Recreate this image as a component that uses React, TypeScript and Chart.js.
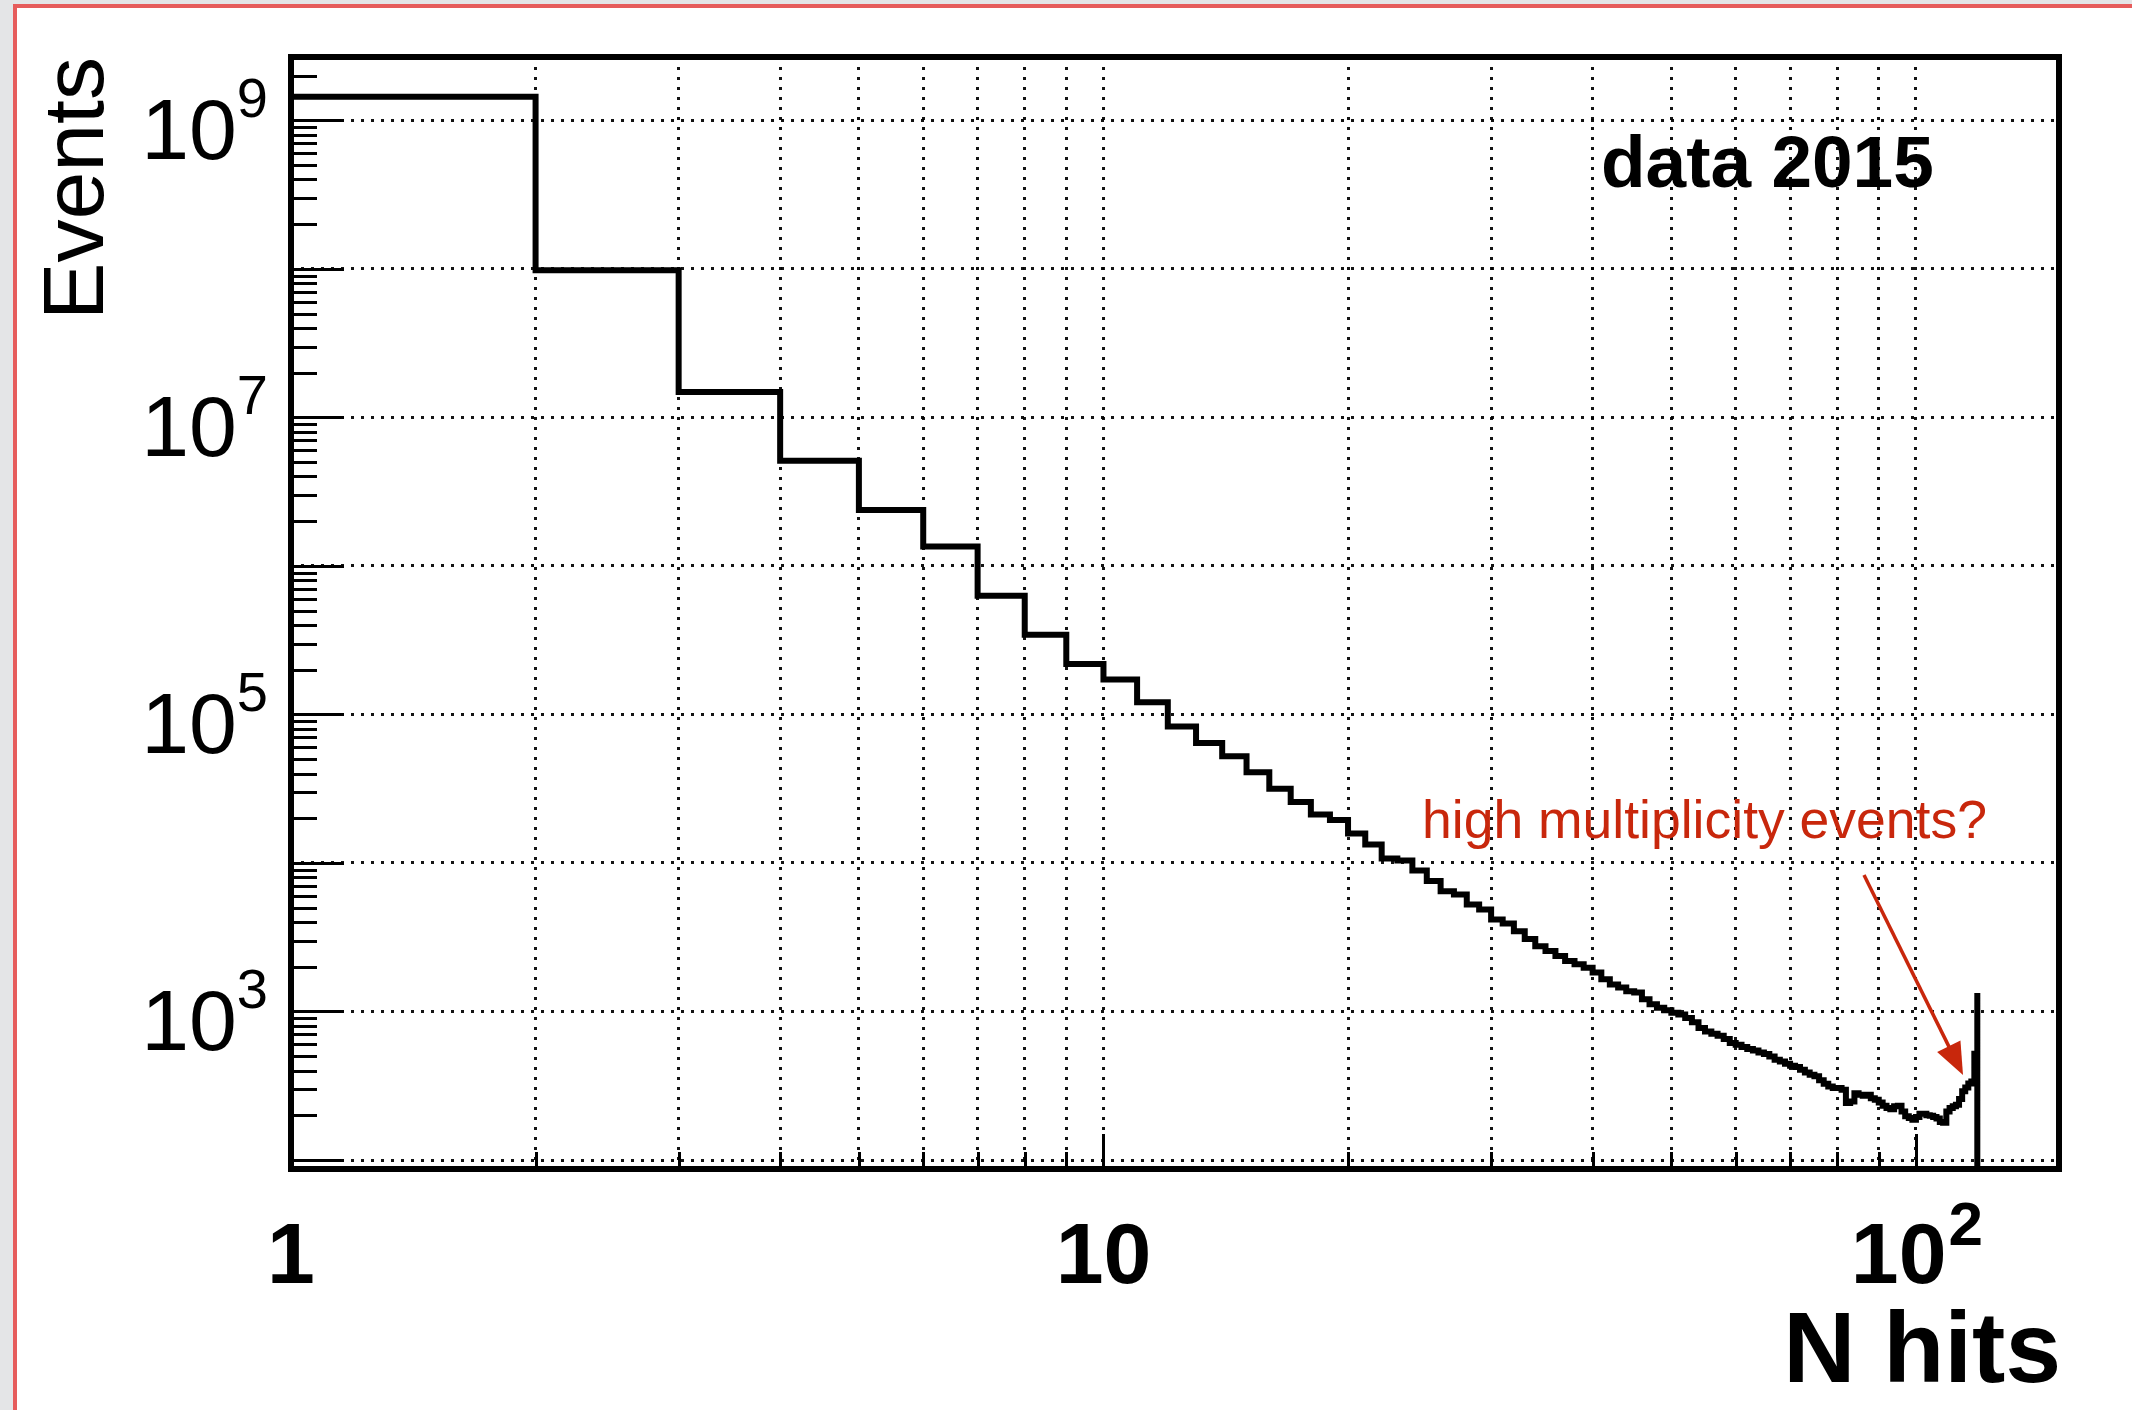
import React, { useEffect, useRef } from "react";
import { Chart, registerables } from "chart.js";

Chart.register(...registerables);

const W = 2132;
const H = 1410;

// ---------- DATA ----------
// Histogram bins: lower edge of each N-hits bin (bin width 1)
const binLowEdges = [
  1, 2, 3, 4, 5, 6, 7, 8, 9, 10, 11, 12, 13, 14, 15, 16, 17, 18, 19, 20,
  21, 22, 23, 24, 25, 26, 27, 28, 29, 30, 31, 32, 33, 34, 35, 36, 37, 38, 39, 40,
  41, 42, 43, 44, 45, 46, 47, 48, 49, 50, 51, 52, 53, 54, 55, 56, 57, 58, 59, 60,
  61, 62, 63, 64, 65, 66, 67, 68, 69, 70, 71, 72, 73, 74, 75, 76, 77, 78, 79, 80,
  81, 82, 83, 84, 85, 86, 87, 88, 89, 90, 91, 92, 93, 94, 95, 96, 97, 98, 99, 100,
  101, 102, 103, 104, 105, 106, 107, 108, 109, 110, 111, 112, 113, 114, 115, 116, 117, 118,
];
const binWidth = 1;

// Events per bin
const events = [
  1.44e9, 9.8e7, 1.48e7, 5.1e6, 2.38e6, 1.35e6, 6.3e5, 3.44e5, 2.19e5, 1.72e5,
  1.21e5, 8.3e4, 6.43e4, 5.24e4, 4.08e4, 3.16e4, 2.57e4, 2.12e4, 1.95e4, 1.58e4,
  1.33e4, 1.07e4, 1.04e4, 8900, 7550, 6460, 6140, 5250, 4860, 4170,
  3920, 3470, 3080, 2750, 2550, 2360, 2190, 2080, 1970, 1830,
  1650, 1520, 1450, 1370, 1340, 1210, 1120, 1060, 1020, 982,
  955, 905, 845, 775, 733, 707, 686, 652, 613, 597,
  576, 558, 547, 530, 517, 498, 473, 461, 445, 431,
  423, 406, 389, 375, 366, 344, 326, 313, 305, 305,
  297, 242, 248, 282, 275, 271, 275, 261, 255, 244,
  232, 224, 220, 230, 232, 212, 197, 192, 187, 195,
  205, 205, 200, 199, 195, 190, 180, 178, 212, 224,
  230, 236, 258, 290, 308, 328, 338, 520,
];

// Final spike at the end of the histogram
const spikeNHits = 119;
const spikeEvents = 1330;

// Axis ranges
const X_MIN = 1;
const X_MAX = 150;
const Y_MIN = 87;
const Y_MAX = 2.67e9;

// Ticks / grid
const xTickValues = [2, 3, 4, 5, 6, 7, 8, 9, 10, 20, 30, 40, 50, 60, 70, 80, 90, 100];
const xMajorTickValues = [10, 100];
const xLabelValues = [1, 10, 100];
const xLabelBases = ["1", "10", "10"];
const xLabelExps = ["", "", "2"];

const yDecades = [1e2, 1e3, 1e4, 1e5, 1e6, 1e7, 1e8, 1e9];
const yMinorMultiples = [2, 3, 4, 5, 6, 7, 8, 9];
const yLabelValues = [1e3, 1e5, 1e7, 1e9];
const yLabelBases = ["10", "10", "10", "10"];
const yLabelExps = ["3", "5", "7", "9"];

const yTitle = "Events";
const xTitle = "N hits";
const dataLabel = "data 2015";
const annotationText = "high multiplicity events?";

// ---------- STYLE ----------
const FONT = '"Liberation Sans", Arial, Helvetica, sans-serif';
const RED = "#c8270c";
const GRID_COLOR = "rgba(0,0,0,0.92)";

const yTickValues: number[] = [];
[1e1, ...yDecades].forEach((d) => {
  [1, ...yMinorMultiples].forEach((m) => {
    const v = d * m;
    if (v >= Y_MIN && v <= Y_MAX) yTickValues.push(v);
  });
});
const isDecade = (v: number) => yDecades.includes(v);

// Histogram outline built from the bins
function buildOutline() {
  const pts: { x: number; y: number }[] = [];
  binLowEdges.forEach((lo, i) => {
    pts.push({ x: lo, y: events[i] });
    pts.push({ x: lo + binWidth, y: events[i] });
  });
  pts.push({ x: spikeNHits, y: spikeEvents });
  pts.push({ x: spikeNHits, y: Y_MIN });
  return pts;
}

const rootStyle = {
  id: "rootStyle",
  afterDraw(chart: any) {
    const ctx: CanvasRenderingContext2D = chart.ctx;
    const xs = chart.scales.x;
    const ys = chart.scales.y;
    const ca = chart.chartArea;
    ctx.save();

    // y ticks (inside the frame)
    ctx.strokeStyle = "#000";
    ctx.lineWidth = 3;
    yTickValues.forEach((v) => {
      const py = Math.round(ys.getPixelForValue(v)) + 0.5;
      const len = isDecade(v) ? 53 : 26;
      ctx.beginPath();
      ctx.moveTo(ca.left, py);
      ctx.lineTo(ca.left + len, py);
      ctx.stroke();
    });
    // x ticks (inside the frame, from the bottom)
    xTickValues.forEach((v) => {
      const px = Math.round(xs.getPixelForValue(v)) + 0.5;
      const len = xMajorTickValues.includes(v) ? 35 : 17;
      ctx.beginPath();
      ctx.moveTo(px, ca.bottom);
      ctx.lineTo(px, ca.bottom - len);
      ctx.stroke();
    });

    // frame
    ctx.lineWidth = 6;
    ctx.strokeRect(ca.left, ca.top, ca.right - ca.left, ca.bottom - ca.top);

    ctx.fillStyle = "#000";
    ctx.textBaseline = "alphabetic";

    // y labels: 10^n
    const yRight = ca.left - 23;
    yLabelValues.forEach((v, i) => {
      const py = ys.getPixelForValue(v);
      ctx.font = `56px ${FONT}`;
      const ew = ctx.measureText(yLabelExps[i]).width;
      ctx.font = `86px ${FONT}`;
      const bw = ctx.measureText(yLabelBases[i]).width;
      ctx.textAlign = "left";
      ctx.fillText(yLabelBases[i], yRight - ew - bw, py + 39);
      ctx.font = `56px ${FONT}`;
      ctx.fillText(yLabelExps[i], yRight - ew, py - 3);
    });

    // x labels (bold)
    xLabelValues.forEach((v, i) => {
      const px = xs.getPixelForValue(v);
      ctx.font = `bold 62px ${FONT}`;
      const ew = xLabelExps[i] ? ctx.measureText(xLabelExps[i]).width : 0;
      ctx.font = `bold 86px ${FONT}`;
      const bw = ctx.measureText(xLabelBases[i]).width;
      const x0 = px - (bw + ew) / 2;
      ctx.textAlign = "left";
      ctx.fillText(xLabelBases[i], x0, ca.bottom + 114);
      if (xLabelExps[i]) {
        ctx.font = `bold 62px ${FONT}`;
        ctx.fillText(xLabelExps[i], x0 + bw + 2, ca.bottom + 76);
      }
    });

    // axis titles
    ctx.save();
    ctx.translate(103, ca.top);
    ctx.rotate(-Math.PI / 2);
    ctx.font = `86px ${FONT}`;
    ctx.textAlign = "right";
    ctx.fillText(yTitle, 0, 0);
    ctx.restore();

    ctx.font = `bold 100px ${FONT}`;
    ctx.textAlign = "right";
    ctx.fillText(xTitle, ca.right + 2, 1382);

    // "data 2015"
    ctx.font = `bold 73px ${FONT}`;
    ctx.textAlign = "left";
    ctx.fillText(dataLabel, 1601, 187);

    // annotation
    ctx.fillStyle = RED;
    ctx.font = `53.5px ${FONT}`;
    ctx.textAlign = "left";
    ctx.fillText(annotationText, 1422, 838);

    // arrow
    const x1 = 1864, y1 = 875, x2 = 1963, y2 = 1075;
    const dx = x2 - x1, dy = y2 - y1;
    const L = Math.hypot(dx, dy);
    const ux = dx / L, uy = dy / L;
    const headLen = 32, headHalf = 13;
    const bx = x2 - ux * headLen, by = y2 - uy * headLen;
    ctx.strokeStyle = RED;
    ctx.lineWidth = 3.5;
    ctx.beginPath();
    ctx.moveTo(x1, y1);
    ctx.lineTo(bx + ux * 2, by + uy * 2);
    ctx.stroke();
    ctx.beginPath();
    ctx.moveTo(x2, y2);
    ctx.lineTo(bx - uy * headHalf, by + ux * headHalf);
    ctx.lineTo(bx + uy * headHalf, by - ux * headHalf);
    ctx.closePath();
    ctx.fill();

    ctx.restore();
  },
};

export default function App() {
  const canvasRef = useRef<HTMLCanvasElement | null>(null);

  useEffect(() => {
    const canvas = canvasRef.current;
    if (!canvas) return;
    const chart = new Chart(canvas, {
      type: "scatter",
      data: {
        datasets: [
          {
            data: buildOutline(),
            showLine: true,
            borderColor: "#000",
            borderWidth: 6,
            pointRadius: 0,
            pointHoverRadius: 0,
            fill: false,
            tension: 0,
            borderJoinStyle: "miter",
            borderCapStyle: "butt",
          } as any,
        ],
      },
      options: {
        responsive: false,
        animation: false,
        devicePixelRatio: 1,
        events: [],
        layout: {
          padding: { left: 291, top: 57, right: W - 2059, bottom: H - 1169 },
        },
        plugins: {
          legend: { display: false },
          tooltip: { enabled: false },
        },
        scales: {
          x: {
            type: "logarithmic",
            min: X_MIN,
            max: X_MAX,
            ticks: { display: false },
            afterBuildTicks: (s: any) => {
              s.ticks = xTickValues.map((v) => ({ value: v }));
            },
            grid: {
              drawTicks: false,
              lineWidth: 3,
              color: (c: any) =>
                c.tick && c.tick.value > X_MIN && c.tick.value <= 100 ? GRID_COLOR : "rgba(0,0,0,0)",
            },
            border: { display: false, dash: [3, 7] },
          },
          y: {
            type: "logarithmic",
            min: Y_MIN,
            max: Y_MAX,
            ticks: { display: false },
            afterBuildTicks: (s: any) => {
              s.ticks = yTickValues.map((v) => ({ value: v }));
            },
            grid: {
              drawTicks: false,
              lineWidth: 3,
              color: (c: any) => (c.tick && isDecade(c.tick.value) ? GRID_COLOR : "rgba(0,0,0,0)"),
            },
            border: { display: false, dash: [3, 7] },
          },
        } as any,
      },
      plugins: [rootStyle],
    });
    return () => chart.destroy();
  }, []);

  return (
    <div
      style={{
        position: "fixed",
        left: 0,
        top: 0,
        width: W,
        height: H,
        background: "#e4e5e7",
        overflow: "hidden",
      }}
    >
      <div
        style={{
          position: "absolute",
          left: 13,
          top: 4,
          width: W - 13,
          height: H - 4,
          boxSizing: "border-box",
          background: "#ffffff",
          borderTop: "4px solid #e65c5c",
          borderLeft: "4px solid #e65c5c",
        }}
      />
      <canvas
        ref={canvasRef}
        width={W}
        height={H}
        style={{ position: "absolute", left: 0, top: 0, width: W, height: H }}
      />
    </div>
  );
}
